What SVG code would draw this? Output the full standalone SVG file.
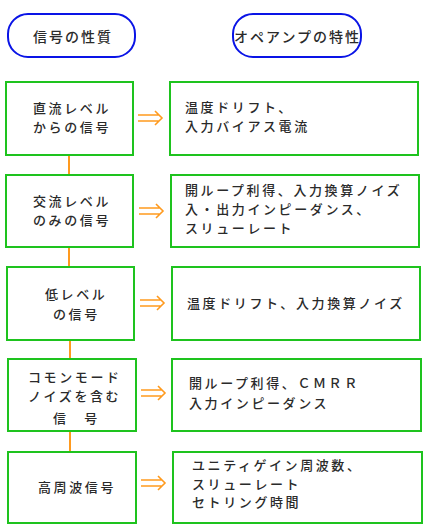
<svg xmlns="http://www.w3.org/2000/svg" width="430" height="532" viewBox="0 0 430 532">
<style>
.pill{fill:#fff;stroke:#0a14e6;stroke-width:2}
.box{fill:#fff;stroke:#1ec31e;stroke-width:2}
.t{font-family:"Noto Sans CJK JP","Noto Sans",sans-serif;font-size:13px;font-weight:500;letter-spacing:2.6px;fill:#2a2a2a}
.tp{font-family:"Noto Sans CJK JP","Noto Sans",sans-serif;font-size:14px;font-weight:500;letter-spacing:2px;fill:#2a2a2a}
.link{stroke:#ff9a1e;stroke-width:2;fill:none}
.arr{stroke:#ff9a1e;stroke-width:1.6;fill:none}
</style>
<rect width="430" height="532" fill="#fff"/>
<g id="connectors">
<line class="link" x1="69" y1="155" x2="69" y2="175"/>
<line class="link" x1="69" y1="247" x2="69" y2="267"/>
<line class="link" x1="70" y1="340" x2="70" y2="359"/>
<line class="link" x1="70" y1="431" x2="70" y2="452"/>
<path class="arr" d="M138 115H159M138 121H159M155 111L162 118L155 125"/>
<path class="arr" d="M139 208H160M139 214H160M156 204L163 211L156 218"/>
<path class="arr" d="M140 300H161M140 306H161M157 296L164 303L157 310"/>
<path class="arr" d="M141 390H162M141 396H162M158 386L165 393L158 400"/>
<path class="arr" d="M141 480H162M141 486H162M158 476L165 483L158 490"/>
</g>
<g id="h1"><rect class="pill" x="8" y="14" width="127" height="43" rx="20"/><text class="tp" x="33" y="42">信号の性質</text></g>
<g id="h2"><rect class="pill" x="233" y="14" width="128" height="43" rx="20"/><text class="tp" x="234" y="42">オペアンプの特性</text></g>
<g id="l1"><rect class="box" x="6" y="82" width="127" height="73"/><text class="t" x="33" y="113">直流レベル</text><text class="t" x="33" y="132">からの信号</text></g>
<g id="r1"><rect class="box" x="170" y="82" width="248" height="73"/><text class="t" x="185" y="112">温度ドリフト、</text><text class="t" x="185" y="131">入力バイアス電流</text></g>
<g id="l2"><rect class="box" x="6" y="175" width="127" height="72"/><text class="t" x="33" y="206">交流レベル</text><text class="t" x="33" y="225">のみの信号</text></g>
<g id="r2"><rect class="box" x="171" y="175" width="248" height="72"/><text class="t" x="185" y="195">開ループ利得、入力換算ノイズ</text><text class="t" x="185" y="214">入・出力インピーダンス、</text><text class="t" x="185" y="233">スリューレート</text></g>
<g id="l3"><rect class="box" x="7" y="267" width="127" height="73"/><text class="t" x="45" y="299">低レベル</text><text class="t" x="53" y="319">の信号</text></g>
<g id="r3"><rect class="box" x="172" y="267" width="248" height="73"/><text class="t" x="187" y="308">温度ドリフト、入力換算ノイズ</text></g>
<g id="l4"><rect class="box" x="8" y="359" width="128" height="72"/><text class="t" x="28" y="382">コモンモード</text><text class="t" x="28" y="401">ノイズを含む</text><text class="t" x="53" y="423">信　号</text></g>
<g id="r4"><rect class="box" x="172" y="359" width="249" height="72"/><text class="t" x="189" y="388">開ループ利得、ＣＭＲＲ</text><text class="t" x="189" y="408">入力インピーダンス</text></g>
<g id="l5"><rect class="box" x="8" y="452" width="128" height="71"/><text class="t" x="38" y="492">高周波信号</text></g>
<g id="r5"><rect class="box" x="173" y="452" width="249" height="71"/><text class="t" x="192" y="470">ユニティゲイン周波数、</text><text class="t" x="192" y="489">スリューレート</text><text class="t" x="192" y="507">セトリング時間</text></g>
</svg>
